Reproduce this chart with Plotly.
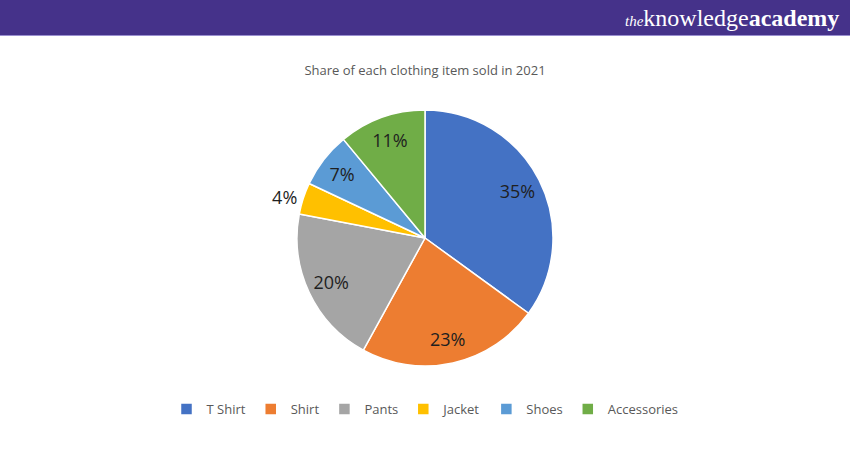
import plotly.graph_objects as go

labels = ["T Shirt", "Shirt", "Pants", "Jacket", "Shoes", "Accessories"]
values = [35, 23, 20, 4, 7, 11]
colors = ["#4472C4", "#ED7D31", "#A5A5A5", "#FFC000", "#5B9BD5", "#70AD47"]
positions = ["inside", "inside", "inside", "outside", "inside", "inside"]

W, H = 850, 450
cx, cy, r = 425, 238, 128
domain = dict(x=[(cx - r) / W, (cx + r) / W], y=[1 - (cy + r) / H, 1 - (cy - r) / H])
label_font = dict(family="Open Sans, sans-serif", size=18, color="#1f1f1f")

# coloured slices
fig = go.Figure(go.Pie(
    labels=labels, values=values, sort=False, direction="clockwise", rotation=0,
    marker=dict(colors=colors, line=dict(color="white", width=1.5)),
    textinfo="none", domain=domain, hoverinfo="label+percent",
))
# transparent ring carrying the percentage labels (places them further out, like Excel)
fig.add_trace(go.Pie(
    labels=labels, values=values, sort=False, direction="clockwise", rotation=0,
    hole=0.62, showlegend=False,
    marker=dict(colors=["rgba(0,0,0,0)"] * len(labels), line=dict(width=0)),
    texttemplate="%{percent:.0%}", textposition=positions,
    insidetextorientation="horizontal", textfont=label_font,
    domain=domain, hoverinfo="skip",
))

fig.update_layout(
    width=W, height=H, margin=dict(l=0, r=0, t=0, b=0),
    paper_bgcolor="white", plot_bgcolor="white",
    title=dict(text="Share of each clothing item sold in 2021", x=0.5, xanchor="center",
               y=1 - 70 / H, yanchor="middle",
               font=dict(family="Open Sans, sans-serif", size=13, color="#595959")),
    legend=dict(orientation="h", x=0.5, xanchor="center", y=1 - 409 / H, yanchor="middle",
                font=dict(family="Open Sans, sans-serif", size=13, color="#595959"),
                itemwidth=30, traceorder="normal"),
    shapes=[
        dict(type="rect", xref="paper", yref="paper", x0=0, x1=1, y0=1 - 36 / H, y1=1,
             fillcolor="#9A8FD0", line=dict(width=0), layer="below"),
        dict(type="rect", xref="paper", yref="paper", x0=0, x1=1, y0=1 - 35 / H, y1=1,
             fillcolor="#45328A", line=dict(width=0), layer="below"),
    ],
    annotations=[
        dict(text="<i><span style='font-size:15px'>the</span></i>knowledge<b>academy</b>",
             xref="paper", yref="paper",
             x=1 - 9 / W, y=1 - 18 / H, xanchor="right", yanchor="middle", showarrow=False,
             font=dict(family="Liberation Serif, serif", size=24, color="white")),
    ],
)

fig.write_html("out.html")
